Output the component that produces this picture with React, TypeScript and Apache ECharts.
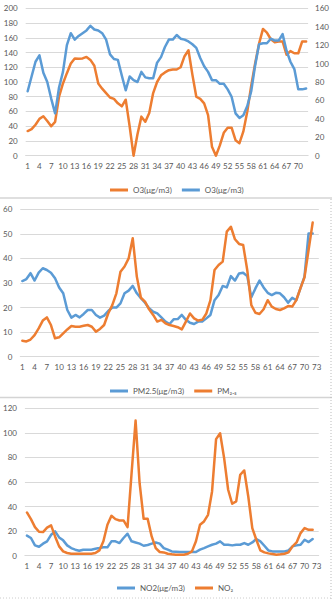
import React, { useEffect, useRef } from "react";
import * as echarts from "echarts";

// Category labels (1..72 for the O3 chart, 1..73 for the others)
const catsO3: string[] = Array.from({ length: 72 }, (_, i) => String(i + 1));
const cats73: string[] = Array.from({ length: 73 }, (_, i) => String(i + 1));

// Chart 1: O3 (orange on left axis, blue on right axis)
const o3Orange = [33.5,36,42,50,53.5,47,40,46,80,98,112,125,132,131.5,132,134,130,122,98,91,85,79,77,71,67,76,40,0,29,53,46,58,85,100,109,113,116,117,117,120,135,143,110,80,77,71,55,12,0,14,31,38,38,21,17,33,60,95,125,152,172,167,158,154,155,155,137,142,139,139,155,155];
const o3Blue = [70,86,102,109,90,80,62,46,74,91,120,133,126,130,133,136,141,137,136,133,126,110,105,104,87,71,86,82,80,91,85,84,84,101,107,118,126,126,131,127,126,124,121,117,106,97,91,82,82,78,78,72,64,46,41,44,54,70,98,121,122,122,127,125,125,132,114,102,94,72,72,73];

// Chart 2: PM2.5
const pm25Blue = [30.8,31.6,34,31,34.2,36,35.3,34.2,31.9,28.2,25.8,19,15.9,17,16,17.4,19,19,17,15.9,16.7,18.6,20,20,21.7,25.8,26.9,28.8,25.8,23.8,22,19.7,18.3,17.6,16,14.3,13.3,15.2,15.3,17,15,13.8,13.3,14.3,14.3,15.6,17,23,25.1,28.8,28.2,32.8,31,33.9,34.2,32.8,24.2,27.8,31,28.2,26,25.1,26,25.8,24.2,22,24,23,27.8,32.6,50.2,50.2];
const pm25Orange = [6.5,6.2,7,8.8,11.5,14.7,16,12.9,7.5,7.9,9.5,11.1,12.5,12.2,12.2,12.6,12.9,12.2,10.2,11.3,12.9,17.6,21,25.8,34.6,36.7,40,48.2,32.6,24,22.4,19.3,17,14.3,15,13.6,12.9,12.5,12,11.1,14.3,17.6,15.6,14.7,15,17.6,23,35.3,37.3,38.7,50.9,52.9,47.8,45.9,45.5,35.3,21,17.9,17.4,19.3,23,20.4,19.4,19,19.7,20.6,20.4,23,27.8,32.3,43.4,54.6];

// Chart 3: NO2
const no2Blue = [16.3,14.4,8.4,7.3,9.8,11.7,17,19.8,14.9,12.5,8.4,6.2,4.9,4.1,4.9,4.9,4.9,5.7,6.2,6.8,6.8,11.7,11.7,10.3,14.4,17.9,11.7,10.8,9.8,8.1,8.7,9.8,10.8,9.8,6.2,4.9,3.5,3.3,3,3,3,3,3,4.9,6.2,7.6,8.9,9.8,11.7,8.9,8.9,8.4,8.9,8.9,10.3,8.9,10.8,13.6,11.7,8.1,4.3,3.5,3.5,3.5,3.5,4.3,7.6,8.4,8.9,13,11.1,13.6];
const no2Orange = [35.2,29.8,23.3,19.5,19.2,22.8,24.7,15.7,7.6,3.5,2.2,1.6,1.6,1.6,1.6,1.6,1.6,2.2,4.3,11.7,25.2,32.5,29.8,28.7,28.7,23.3,67,110,59,30,30,15.7,6.2,3,2.7,1.6,1.1,0.8,0.8,0.8,1.6,3.5,11.7,25.2,27.9,33.3,52.3,94.9,99.7,79.4,53.7,42.3,44.2,65.9,69.4,48.2,22.5,13,4.3,2.7,1.9,1.4,0.8,1.1,1.6,2.7,7.6,10.8,18.4,22.5,21.1,21.1];

const BLUE = "#5B9BD5";
const ORANGE = "#ED7D31";
const GRID = "#D9D9D9";
const TXT = "#595959";
const FONT = "Lato, 'Open Sans', sans-serif";

const nameO3a = "O3(μg/m3)";
const nameO3b = "O3(μg/m3) ";
const namePMa = "PM2.5(μg/m3)";
const namePMb = "PM₂.₅";
const nameNOa = "NO2(μg/m3)";
const nameNOb = "NO₂";

export default function App() {
  const ref = useRef<HTMLDivElement>(null);
  useEffect(() => {
    if (!ref.current) return;
    const chart = echarts.init(ref.current, undefined, { renderer: "svg" });
    const xAxisBase = (gridIndex: number, data: string[]) => ({
      type: "category",
      gridIndex,
      data,
      boundaryGap: true,
      axisTick: { show: false },
      axisLine: { show: true, lineStyle: { color: GRID, width: 1 } },
      axisLabel: { interval: 2, fontSize: 8, color: TXT, fontFamily: FONT, margin: 6 },
    });
    const yBase = (gridIndex: number, max: number, interval: number, extra: any = {}) => ({
      type: "value",
      gridIndex,
      min: 0,
      max,
      interval,
      axisLine: { show: false },
      axisTick: { show: false },
      axisLabel: { fontSize: 8, color: TXT, fontFamily: FONT, margin: 8 },
      splitLine: { show: true, lineStyle: { color: GRID, width: 1 } },
      ...extra,
    });
    const line = (name: string, data: number[], color: string, xi: number, yi: number) => ({
      type: "line",
      name,
      data,
      xAxisIndex: xi,
      yAxisIndex: yi,
      symbol: "none",
      showSymbol: false,
      lineStyle: { color, width: 2.5, join: "round", cap: "round" },
      itemStyle: { color },
      z: 3,
    });
    const legendBase = (left: number, top: number, data: string[]) => ({
      left,
      top,
      data,
      icon: "rect",
      itemWidth: 18,
      itemHeight: 3,
      itemGap: 10,
      formatter: (n: string) => n.trim(),
      textStyle: { fontSize: 8, color: TXT, fontFamily: FONT },
    });
    chart.setOption({
      animation: false,
      backgroundColor: "#fff",
      grid: [
        { left: 25.7, right: 23.9, top: 8.3, height: 147.4 },
        { left: 18.6, right: 13.2, top: 209.3, height: 147.4 },
        { left: 22.3, right: 13.3, top: 408.3, height: 147.4 },
      ],
      xAxis: [xAxisBase(0, catsO3), xAxisBase(1, cats73), xAxisBase(2, cats73)],
      yAxis: [
        yBase(0, 200, 20),
        yBase(0, 160, 20, { position: "right", splitLine: { show: false }, axisLabel: { fontSize: 8, color: TXT, fontFamily: FONT, margin: 7 } }),
        yBase(1, 60, 10),
        yBase(2, 120, 20),
      ],
      legend: [
        legendBase(105, 181, [nameO3a, nameO3b]),
        legendBase(105, 382, [namePMa, namePMb]),
        legendBase(112, 579, [nameNOa, nameNOb]),
      ],
      graphic: [
        { type: "line", shape: { x1: 0, y1: 198, x2: 332, y2: 198 }, style: { stroke: "#D4D4D4", lineWidth: 1.5 }, silent: true },
        { type: "line", shape: { x1: 0, y1: 397.5, x2: 332, y2: 397.5 }, style: { stroke: "#D4D4D4", lineWidth: 1.5 }, silent: true },
        { type: "line", shape: { x1: 331, y1: 199, x2: 331, y2: 600 }, style: { stroke: "#BBBBBB", lineWidth: 1, lineDash: [1, 2] }, silent: true },
        { type: "line", shape: { x1: 0, y1: 598, x2: 332, y2: 598 }, style: { stroke: "#CCCCCC", lineWidth: 1, lineDash: [1, 2] }, silent: true },
      ],
      series: [
        line(nameO3a, o3Orange, ORANGE, 0, 0),
        line(nameO3b, o3Blue, BLUE, 0, 1),
        line(namePMa, pm25Blue, BLUE, 1, 2),
        line(namePMb, pm25Orange, ORANGE, 1, 2),
        line(nameNOa, no2Blue, BLUE, 2, 3),
        line(nameNOb, no2Orange, ORANGE, 2, 3),
      ],
    });
    return () => chart.dispose();
  }, []);
  return (
    <div
      ref={ref}
      style={{ position: "absolute", left: 0, top: 0, width: 332, height: 600, background: "#fff" }}
    />
  );
}
